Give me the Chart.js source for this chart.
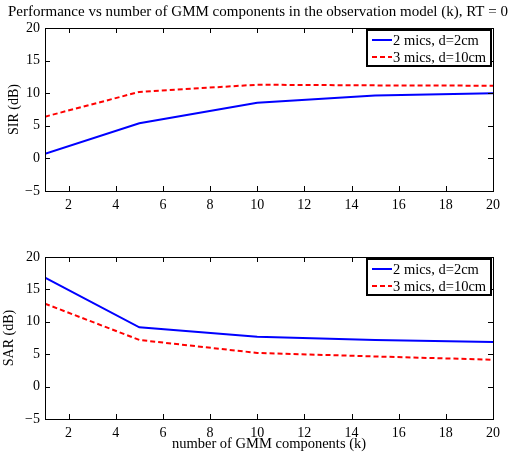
<!DOCTYPE html>
<html>
<head>
<meta charset="utf-8">
<script src="https://cdn.jsdelivr.net/npm/chart.js@4/dist/chart.umd.min.js"></script>
<style>
  html, body { margin: 0; padding: 0; background: #fff; }
  #wrap { position: relative; width: 516px; height: 455px; }
  canvas { position: absolute; left: 0; }
</style>
</head>
<body>
<div id="wrap">
  <canvas id="sirChart" width="516" height="225" style="top:0"></canvas>
  <canvas id="sarChart" width="516" height="225" style="top:230px"></canvas>
</div>
<script>
const kValues = [1, 5, 10, 15, 20];
const sir2mics = [0.7, 5.4, 8.55, 9.65, 10.0];
const sir3mics = [6.4, 10.2, 11.3, 11.2, 11.15];
const sar2mics = [16.8, 9.15, 7.7, 7.2, 6.9];
const sar3mics = [12.8, 7.2, 5.2, 4.65, 4.15];
const xTicks = [2, 4, 6, 8, 10, 12, 14, 16, 18, 20];
const yTicks = [-5, 0, 5, 10, 15, 20];
const seriesLabels = ['2 mics, d=2cm', '3 mics, d=10cm'];

const FONT = "'Liberation Serif', 'Times New Roman', serif";

// box, inward ticks and the legend, drawn the matlab way
const matlabFrame = {
    id: 'matlabFrame',
    afterDatasetsDraw(chart) {
        const {ctx, chartArea: a, scales: {x, y}} = chart;
        ctx.save();
        ctx.strokeStyle = '#000';
        ctx.lineWidth = 1;
        ctx.beginPath();
        x.ticks.forEach(t => {
            const px = Math.round(x.getPixelForValue(t.value)) + 0.5;
            ctx.moveTo(px, a.bottom); ctx.lineTo(px, a.bottom - 5);
            ctx.moveTo(px, a.top); ctx.lineTo(px, a.top + 5);
        });
        y.ticks.forEach(t => {
            const py = Math.round(y.getPixelForValue(t.value)) + 0.5;
            ctx.moveTo(a.left, py); ctx.lineTo(a.left + 5, py);
            ctx.moveTo(a.right, py); ctx.lineTo(a.right - 5, py);
        });
        ctx.stroke();
        ctx.strokeRect(Math.round(a.left) + 0.5, Math.round(a.top) + 0.5,
            Math.round(a.right - a.left), Math.round(a.bottom - a.top));

        // legend
        const bw = 124, bh = 36;
        const bx = Math.round(a.right) - 2 - bw;
        const by = Math.round(a.top) + 2;
        ctx.fillStyle = '#fff';
        ctx.fillRect(bx, by, bw, bh);
        ctx.lineWidth = 2;
        ctx.strokeRect(bx, by, bw, bh);
        ctx.font = '14.5px ' + FONT;
        ctx.textBaseline = 'middle';
        chart.data.datasets.forEach((ds, i) => {
            const ry = by + 10 + i * 17;
            ctx.beginPath();
            ctx.strokeStyle = ds.borderColor;
            ctx.lineWidth = ds.borderWidth;
            ctx.setLineDash(ds.borderDash || []);
            ctx.moveTo(bx + 5, ry);
            ctx.lineTo(bx + 25, ry);
            ctx.stroke();
            ctx.setLineDash([]);
            ctx.fillStyle = '#000';
            ctx.fillText(ds.label, bx + 26, ry + 1);
        });
        ctx.restore();
    }
};

function buildChart(id, yLabel, a, b, opts) {
    const ctx = document.getElementById(id).getContext('2d');
    return new Chart(ctx, {
        type: 'line',
        data: {
            datasets: [
                {
                    label: seriesLabels[0],
                    data: kValues.map((k, i) => ({x: k, y: a[i]})),
                    borderColor: '#0000ff',
                    borderWidth: 2,
                    pointRadius: 0,
                    tension: 0
                },
                {
                    label: seriesLabels[1],
                    data: kValues.map((k, i) => ({x: k, y: b[i]})),
                    borderColor: '#ff0000',
                    borderWidth: 2,
                    borderDash: [5, 3],
                    pointRadius: 0,
                    tension: 0
                }
            ]
        },
        options: {
            responsive: false,
            animation: false,
            layout: {padding: {top: opts.padTop, right: 0, left: 0, bottom: 0}},
            plugins: {
                legend: {display: false},
                tooltip: {enabled: false},
                title: {
                    display: !!opts.title,
                    text: opts.title || '',
                    color: '#000',
                    font: {family: FONT, size: 15, weight: 'normal'},
                    padding: {top: 3, bottom: 7}
                }
            },
            scales: {
                x: {
                    type: 'linear',
                    min: 1,
                    max: 20,
                    grid: {display: false, drawTicks: false},
                    border: {display: false},
                    afterBuildTicks: s => { s.ticks = xTicks.map(v => ({value: v})); },
                    afterFit: s => { s.height = opts.xHeight; },
                    ticks: {
                        color: '#000',
                        padding: 6,
                        maxRotation: 0,
                        font: {family: FONT, size: 14}
                    },
                    title: {
                        display: !!opts.xTitle,
                        text: opts.xTitle || '',
                        color: '#000',
                        font: {family: FONT, size: 14.5},
                        padding: {top: 0, bottom: 2}
                    }
                },
                y: {
                    min: -5,
                    max: 20,
                    grid: {display: false, drawTicks: false},
                    border: {display: false},
                    afterBuildTicks: s => { s.ticks = yTicks.map(v => ({value: v})); },
                    afterFit: s => { s.width = 45; },
                    ticks: {
                        color: '#000',
                        padding: 5,
                        font: {family: FONT, size: 14},
                        callback: v => String(v).replace('-', '\u2212')
                    },
                    title: {
                        display: true,
                        text: yLabel,
                        color: '#000',
                        font: {family: FONT, size: 14},
                        padding: {top: opts.yTitlePad, bottom: 0}
                    }
                },
                // empty right axis, only keeps the margin so the title centres on the figure
                yRight: {
                    position: 'right',
                    min: -5,
                    max: 20,
                    grid: {display: false, drawTicks: false},
                    border: {display: false},
                    ticks: {display: false},
                    afterFit: s => { s.width = 23; }
                }
            }
        },
        plugins: [matlabFrame]
    });
}

buildChart('sirChart', 'SIR (dB)', sir2mics, sir3mics, {
    title: 'Performance vs number of GMM components in the observation model (k), RT = 0',
    padTop: 0, xHeight: 34, yTitlePad: 6
});
buildChart('sarChart', 'SAR (dB)', sar2mics, sar3mics, {
    xTitle: 'number of GMM components (k)',
    padTop: 27, xHeight: 36, yTitlePad: 1
});
</script>
</body>
</html>
